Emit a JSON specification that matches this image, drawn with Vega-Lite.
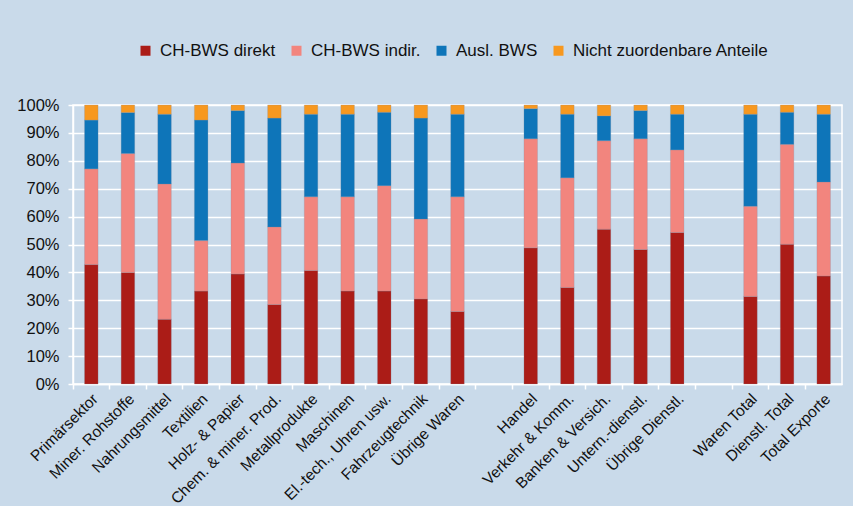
{
  "$schema": "https://vega.github.io/schema/vega-lite/v6.json",
  "width": 769,
  "height": 279,
  "autosize": {"type": "none"},
  "padding": {"left": 73, "top": 105, "right": 11, "bottom": 122},
  "background": "#c9daea",
  "config": {
    "font": "Liberation Sans",
    "view": {"stroke": "white", "strokeWidth": 1.5},
    "axis": {"labelColor": "#111111", "labelFont": "Liberation Sans"}
  },
  "data": {
    "values": [
      {"cat": "Primärsektor", "a": 42.8, "b": 34.3, "c": 17.5, "d": 5.4},
      {"cat": "Miner. Rohstoffe", "a": 40.0, "b": 42.6, "c": 14.7, "d": 2.7},
      {"cat": "Nahrungsmittel", "a": 23.2, "b": 48.5, "c": 25.0, "d": 3.3},
      {"cat": "Textilien", "a": 33.3, "b": 18.1, "c": 43.2, "d": 5.4},
      {"cat": "Holz- & Papier", "a": 39.4, "b": 39.8, "c": 18.8, "d": 2.0},
      {"cat": "Chem. & miner. Prod.", "a": 28.5, "b": 27.8, "c": 39.0, "d": 4.7},
      {"cat": "Metallprodukte", "a": 40.7, "b": 26.4, "c": 29.6, "d": 3.3},
      {"cat": "Maschinen", "a": 33.3, "b": 33.8, "c": 29.6, "d": 3.3},
      {"cat": "El.-tech., Uhren usw.", "a": 33.3, "b": 37.8, "c": 26.3, "d": 2.6},
      {"cat": "Fahrzeugtechnik", "a": 30.5, "b": 28.6, "c": 36.2, "d": 4.7},
      {"cat": "Übrige Waren", "a": 26.0, "b": 41.1, "c": 29.6, "d": 3.3},
      {"cat": "Handel", "a": 48.8, "b": 39.1, "c": 10.8, "d": 1.3},
      {"cat": "Verkehr & Komm.", "a": 34.6, "b": 39.3, "c": 22.8, "d": 3.3},
      {"cat": "Banken & Versich.", "a": 55.5, "b": 31.7, "c": 8.9, "d": 3.9},
      {"cat": "Untern.-dienstl.", "a": 48.2, "b": 39.7, "c": 10.1, "d": 2.0},
      {"cat": "Übrige Dienstl.", "a": 54.3, "b": 29.6, "c": 12.8, "d": 3.3},
      {"cat": "Waren Total", "a": 31.4, "b": 32.3, "c": 33.0, "d": 3.3},
      {"cat": "Dienstl. Total", "a": 50.1, "b": 35.8, "c": 11.5, "d": 2.6},
      {"cat": "Total Exporte", "a": 38.7, "b": 33.7, "c": 24.3, "d": 3.3}
    ]
  },
  "transform": [{"fold": ["a", "b", "c", "d"], "as": ["seg", "val"]}],
  "mark": {"type": "bar", "width": {"band": 0.37}, "stroke": "#7f8ea0", "strokeWidth": 0.4, "strokeOpacity": 0.6},
  "encoding": {
    "x": {
      "field": "cat",
      "type": "nominal",
      "scale": {
        "domain": ["Primärsektor", "Miner. Rohstoffe", "Nahrungsmittel", "Textilien", "Holz- & Papier", "Chem. & miner. Prod.", "Metallprodukte", "Maschinen", "El.-tech., Uhren usw.", "Fahrzeugtechnik", "Übrige Waren", " ", "Handel", "Verkehr & Komm.", "Banken & Versich.", "Untern.-dienstl.", "Übrige Dienstl.", "  ", "Waren Total", "Dienstl. Total", "Total Exporte"],
        "paddingInner": 0,
        "paddingOuter": 0
      },
      "axis": {
        "title": null,
        "labelAngle": -45,
        "labelAlign": "right",
        "labelBaseline": "middle",
        "labelFontSize": 15.5,
        "labelPadding": 7,
        "labelOffset": 4,
        "labelLimit": 0,
        "bandPosition": 0,
        "tickColor": "white",
        "tickSize": 5,
        "tickWidth": 1.5,
        "domainColor": "white",
        "domainWidth": 1.5,
        "grid": false
      }
    },
    "y": {
      "field": "val",
      "type": "quantitative",
      "stack": "zero",
      "scale": {"domain": [0, 100], "nice": false},
      "axis": {
        "title": null,
        "values": [0, 10, 20, 30, 40, 50, 60, 70, 80, 90, 100],
        "labelExpr": "datum.value + '%'",
        "labelFontSize": 16.5,
        "labelPadding": 9,
        "tickColor": "white",
        "tickSize": 5,
        "tickWidth": 1.5,
        "domainColor": "white",
        "domainWidth": 1.5,
        "grid": true,
        "gridColor": "white",
        "gridWidth": 1.5
      }
    },
    "color": {
      "field": "seg",
      "type": "nominal",
      "scale": {"domain": ["a", "b", "c", "d"], "range": ["#ab1c17", "#f2857e", "#0e75b9", "#f7981f"]},
      "legend": {
        "title": null,
        "orient": "none",
        "legendX": 64,
        "legendY": -63,
        "direction": "horizontal",
        "columns": 4,
        "columnPadding": 12,
        "symbolType": "square",
        "symbolSize": 100,
        "symbolStrokeWidth": 0,
        "labelFontSize": 17,
        "labelLimit": 0,
        "labelColor": "#111111",
        "labelOffset": 6,
        "labelExpr": "datum.label == 'a' ? 'CH-BWS direkt' : datum.label == 'b' ? 'CH-BWS indir.' : datum.label == 'c' ? 'Ausl. BWS' : 'Nicht zuordenbare Anteile'"
      }
    },
    "order": {"field": "seg", "sort": "ascending"}
  }
}
